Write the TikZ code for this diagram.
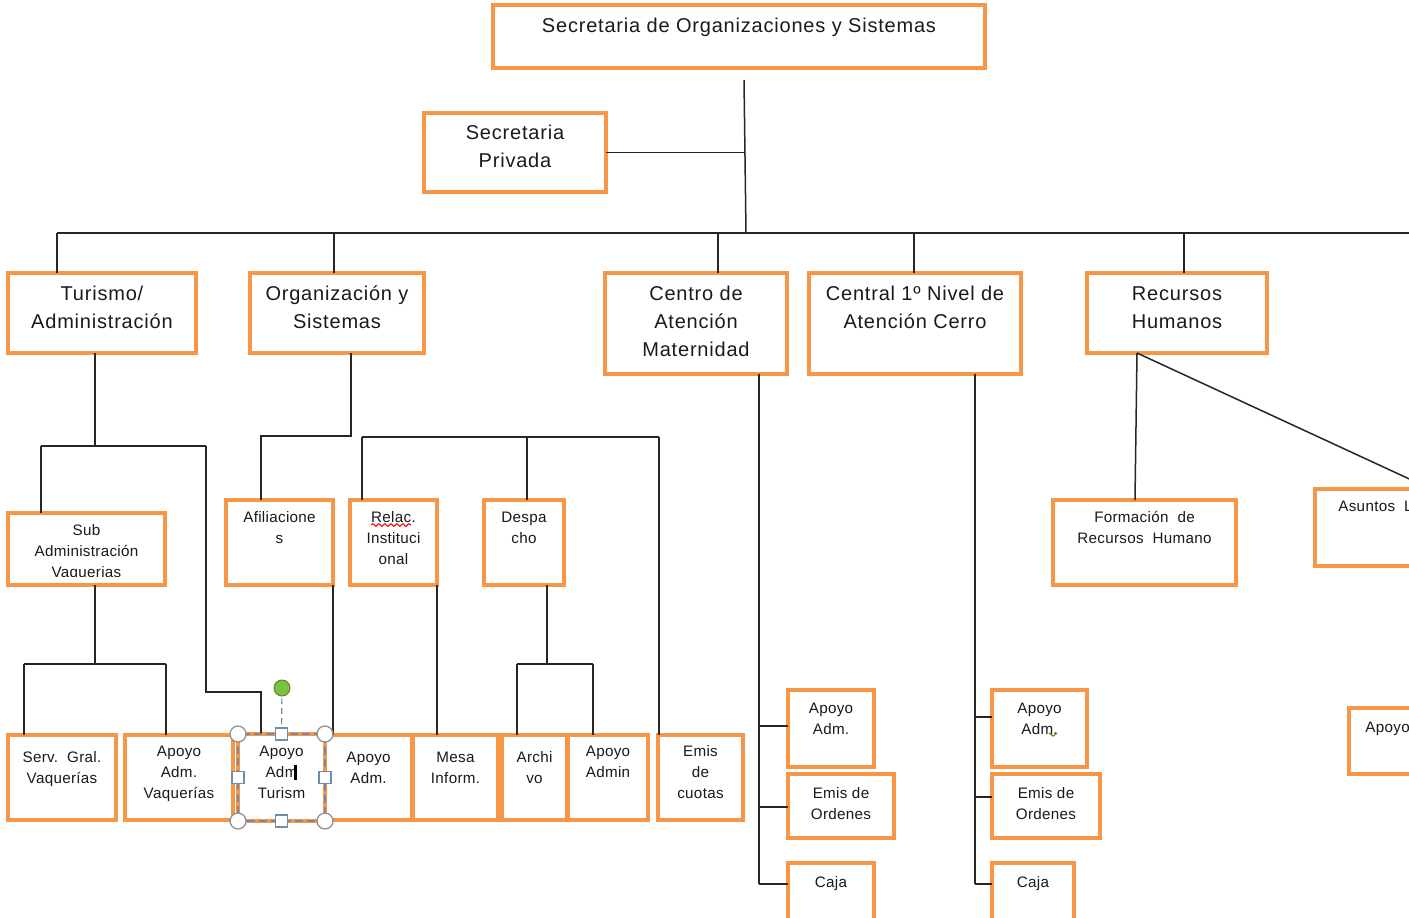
\documentclass[tikz,border=0pt]{standalone}
\usepackage{fontspec}
\setmainfont{Liberation Sans}
\newfontfamily\bigfam[LetterSpace=4]{Liberation Sans}
\newfontfamily\smallfam[LetterSpace=2]{Liberation Sans}
\usetikzlibrary{calc,decorations.pathmorphing}
\definecolor{obor}{HTML}{F79646}
\definecolor{lineclr}{HTML}{262626}
\definecolor{txt}{HTML}{1A1A1A}
\definecolor{selb}{HTML}{6F8CAE}
\definecolor{handleclr}{HTML}{8C8C8C}
\definecolor{rotclr}{HTML}{7CC242}
\tikzset{
  obox/.style={draw=obor, line width=1.6pt, fill=white, inner sep=0pt, outer sep=0pt},
  bigt/.style={font=\bigfam\fontsize{10}{14}\selectfont, align=center, inner sep=0pt, text=txt},
  smallt/.style={font=\smallfam\fontsize{7.6}{10.5}\selectfont, align=center, inner sep=0pt, text=txt},
  conn/.style={draw=lineclr, line width=0.75pt},
  cornerh/.style={draw=handleclr, fill=white, line width=0.6pt},
  sideh/.style={draw=selb, fill=white, line width=0.6pt},
}
\newcommand\bx[8]{%
  \node[obox, anchor=north west, minimum width={(#4-#2)*0.5pt}, minimum height={(#5-#3)*0.5pt}] (#1) at (#2,#3) {};
  \node[#6, anchor=north] (#1-t) at ($(#1.north)+(0,#7)$) {#8};}
\begin{document}
\begin{tikzpicture}[x=0.5pt,y=-0.5pt]
\useasboundingbox (0,0) rectangle (1409,917);
\fill[white] (0,0) rectangle (1409,917);
\clip (0,0) rectangle (1409,917);

% ---- boxes ----
\bx{sos}{493}{5}{985}{68}{bigt}{7.6}{\strut Secretaria de Organizaciones y Sistemas}
\bx{priv}{424}{113}{606}{192}{bigt}{6.6}{\strut Secretaria\\\strut Privada}
\bx{tur}{8}{273}{196}{353}{bigt}{7.6}{\strut Turismo/\\\strut Administración}
\bx{org}{250}{273}{424}{353}{bigt}{7.6}{\strut Organización y\\\strut Sistemas}
\bx{cam}{605}{273}{787}{374}{bigt}{7.6}{\strut Centro de\\\strut Atención\\\strut Maternidad}
\bx{cen}{809}{273}{1021}{374}{bigt}{7.6}{\strut Central 1º Nivel de\\\strut Atención Cerro}
\bx{rrhh}{1087}{273}{1267}{353}{bigt}{7.6}{\strut Recursos\\\strut Humanos}

\node[obox, anchor=north west, minimum width={(165-8)*0.5pt}, minimum height={(585-513)*0.5pt}] (sub) at (8,513) {};
\begin{scope}
  \clip (10,515) rectangle (163,576);
  \node[smallt, anchor=north] (sub-t) at ($(sub.north)+(0,7.7)$) {\strut Sub\\\strut Administración\\\strut Vaquerias};
\end{scope}
\bx{afi}{226}{500}{333}{585}{smallt}{7.7}{\strut Afiliacione\\\strut s}
\bx{rel}{350}{500}{437}{585}{smallt}{7.7}{\strut Relac.\\\strut Instituci\\\strut onal}
\bx{desp}{484}{500}{564}{585}{smallt}{7.7}{\strut Despa\\\strut cho}
\bx{form}{1053}{500}{1236}{585}{smallt}{7.7}{\strut Formación~~de\\\strut Recursos~~Humano}
\node[obox, anchor=north west, minimum width={(1547-1315)*0.5pt}, minimum height={(566-489)*0.5pt}] (asu) at (1315,489) {};
\node[smallt, anchor=north west] (asu-t) at (1338,496.7) {\strut Asuntos~~Legales};

\bx{serv}{8}{735}{116}{820}{smallt}{12.7}{\strut Serv.~~Gral.\\\strut Vaquerías}
\bx{avaq}{125}{735}{233}{820}{smallt}{6.7}{\strut Apoyo\\\strut Adm.\\\strut Vaquerías}
\bx{atur}{238}{734}{325}{821}{smallt}{7.7}{\strut Apoyo\\\strut Adm\\\strut Turism}
\bx{aadm}{325}{735}{412}{820}{smallt}{12.7}{\strut Apoyo\\\strut Adm.}
\bx{mesa}{413}{735}{498}{820}{smallt}{12.7}{\strut Mesa\\\strut Inform.}
\bx{arch}{502}{735}{567}{820}{smallt}{12.7}{\strut Archi\\\strut vo}
\bx{aadmin}{568}{735}{648}{820}{smallt}{6.7}{\strut Apoyo\\\strut Admin}
\bx{emis}{658}{735}{743}{820}{smallt}{6.7}{\strut Emis\\\strut de\\\strut cuotas}

\bx{mapo}{788}{690}{874}{767}{smallt}{8.7}{\strut Apoyo\\\strut Adm.}
\bx{mord}{788}{774}{894}{838}{smallt}{9.7}{\strut Emis de\\\strut Ordenes}
\bx{mcaja}{788}{863}{874}{940}{smallt}{9.7}{\strut Caja}
\bx{capo}{992}{690}{1087}{767}{smallt}{8.7}{\strut Apoyo\\\strut Adm.}
\bx{cord}{992}{774}{1100}{838}{smallt}{9.7}{\strut Emis de\\\strut Ordenes}
\bx{ccaja}{992}{863}{1074}{940}{smallt}{9.7}{\strut Caja}
\node[obox, anchor=north west, minimum width={(1460-1349)*0.5pt}, minimum height={(774-708)*0.5pt}] (apo2) at (1349,708) {};
\node[smallt, anchor=north west] (apo2-t) at (1365,717.7) {\strut Apoyo};

% ---- connectors ----
\coordinate (trunk) at (744,80);
\coordinate (bus) at (746,233);
\draw[conn] (trunk) -- (bus);
\draw[conn] (priv.east) -- (priv.east -| trunk);
\coordinate (busL) at (57,233);
\coordinate (busR) at (1420,233);
\draw[conn] (busL) -- (busR);
\coordinate (b2) at (334,233);
\coordinate (b3) at (718,233);
\coordinate (b4) at (914,233);
\coordinate (b5) at (1184,233);
\draw[conn] (busL) -- (tur.north -| busL);
\draw[conn] (b2) -- (org.north -| b2);
\draw[conn] (b3) -- (cam.north -| b3);
\draw[conn] (b4) -- (cen.north -| b4);
\draw[conn] (b5) -- (rrhh.north -| b5);

% Turismo
\coordinate (t1) at (95,446);
\coordinate (t1L) at (41,446);
\coordinate (t1R) at (206,446);
\coordinate (t2) at (206,692);
\coordinate (t3) at (261,692);
\draw[conn] (tur.south -| t1) -- (t1);
\draw[conn] (t1L) -- (t1R);
\draw[conn] (t1L) -- (sub.north -| t1L);
\draw[conn] (t1R) -- (t2) -- (t3) -- (atur.north -| t3);

% Sub administracion
\coordinate (s1) at (95,664);
\coordinate (s2) at (24,664);
\coordinate (s3) at (166,664);
\draw[conn] (sub.south -| s1) -- (s1);
\draw[conn] (s2) -- (s3);
\draw[conn] (s2) -- (serv.north -| s2);
\draw[conn] (s3) -- (avaq.north -| s3);

% Organizacion
\coordinate (o1) at (351,436);
\coordinate (o2) at (261,436);
\draw[conn] (org.south -| o1) -- (o1) -- (o2) -- (afi.north -| o2);
\coordinate (r1) at (362,437);
\coordinate (r2) at (527,437);
\coordinate (r3) at (659,437);
\draw[conn] (r1) -- (r3);
\draw[conn] (r1) -- (rel.north -| r1);
\draw[conn] (r2) -- (desp.north -| r2);
\draw[conn] (r3) -- (emis.north -| r3);
\draw[conn] (afi.south east) -- (afi.south east |- aadm.north);
\draw[conn] (rel.south east) -- (rel.south east |- mesa.north);

% Despacho
\coordinate (d1) at (547,664);
\coordinate (d2) at (517,664);
\coordinate (d3) at (593,664);
\draw[conn] (desp.south -| d1) -- (d1);
\draw[conn] (d2) -- (d3);
\draw[conn] (d2) -- (arch.north -| d2);
\draw[conn] (d3) -- (aadmin.north -| d3);

% Maternidad
\coordinate (m1) at (759,726);
\coordinate (m2) at (759,807);
\coordinate (m3) at (759,884);
\draw[conn] (cam.south -| m3) -- (m3);
\draw[conn] (m1) -- (mapo.west |- m1);
\draw[conn] (m2) -- (mord.west |- m2);
\draw[conn] (m3) -- (mcaja.west |- m3);

% Cerro
\coordinate (c1) at (975,717);
\coordinate (c2) at (975,797);
\coordinate (c3) at (975,884);
\draw[conn] (cen.south -| c3) -- (c3);
\draw[conn] (c1) -- (capo.west |- c1);
\draw[conn] (c2) -- (cord.west |- c2);
\draw[conn] (c3) -- (ccaja.west |- c3);

% Recursos Humanos
\coordinate (h0) at (1137,353);
\coordinate (h1) at (1135,500);
\draw[conn] (h0) -- (h1);
\draw[conn] (h0) -- (asu.north);

% ---- spelling marks and cursor ----
\draw[red, line width=0.5pt, decorate, decoration={snake, amplitude=0.7pt, segment length=3pt}] (371,525) -- (411,525);
\draw[rotclr!70!black, line width=0.6pt] (1049,733) -- (1053,736) -- (1057,733);
\fill[black] (294,765) rectangle (297,780);

% ---- selection handles ----
\draw[selb, line width=0.6pt, dash pattern=on 4pt off 2pt] (atur.north west) rectangle (atur.south east);
\coordinate (rot) at (282,688);
\draw[selb, line width=0.6pt, dash pattern=on 3pt off 2pt] (rot) -- (atur.north);
\filldraw[fill=rotclr, draw=rotclr!70!black, line width=0.5pt] (rot) circle (8);
\foreach \a in {north west, north east, south west, south east}
  \filldraw[cornerh] (atur.\a) circle (8);
\foreach \a in {north, south, west, east}
  \filldraw[sideh] ($(atur.\a)+(-6,-6)$) rectangle ($(atur.\a)+(6,6)$);
\end{tikzpicture}
\end{document}
